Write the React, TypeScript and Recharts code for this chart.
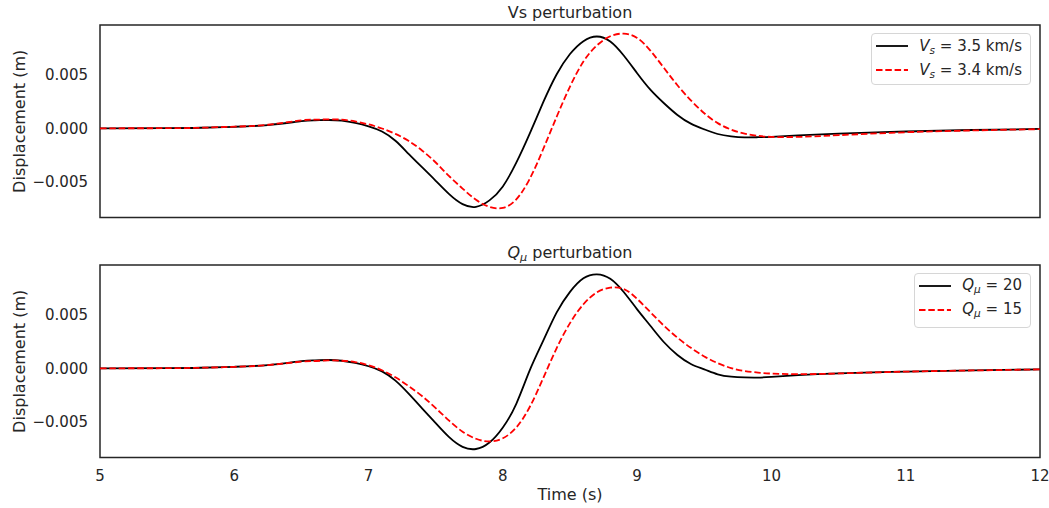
import React from 'react'
import { LineChart, Line, XAxis, YAxis, ReferenceArea } from 'recharts'

// time samples (s)
const times = [5, 5.5, 5.75, 6, 6.25, 6.5, 6.6, 6.7, 6.8, 6.9, 7.0, 7.1, 7.2, 7.3, 7.4, 7.5, 7.6, 7.7, 7.8, 7.9, 8.0, 8.1, 8.2, 8.3, 8.4, 8.5, 8.6, 8.7, 8.8, 8.9, 9.0, 9.1, 9.2, 9.3, 9.4, 9.5, 9.6, 9.7, 9.8, 9.9, 10.0, 10.2, 10.5, 11, 11.5, 12]

// Vs perturbation
const vs35 = [0, 0.00001, 0.00005, 0.00014, 0.0003, 0.00066, 0.00074, 0.00077, 0.00071, 0.0005, 0.00018, -0.0003, -0.00116, -0.0024, -0.00364, -0.00488, -0.00612, -0.00705, -0.0073, -0.0067, -0.0054, -0.0032, -0.0005, 0.0024, 0.005, 0.0069, 0.0081, 0.00853, 0.00806, 0.00676, 0.00512, 0.00357, 0.00233, 0.00124, 0.00043, -0.0001, -0.00053, -0.00075, -0.00084, -0.00083, -0.00079, -0.00066, -0.0005, -0.0003, -0.00016, -0.00006]
const vs34 = [0, 0.00001, 0.00005, 0.00015, 0.00033, 0.00074, 0.0008, 0.00083, 0.0008, 0.00064, 0.00036, -0.00002, -0.00052, -0.00119, -0.00208, -0.00318, -0.00445, -0.0056, -0.00665, -0.0073, -0.0074, -0.0066, -0.0047, -0.00195, 0.00105, 0.00388, 0.0062, 0.0077, 0.00855, 0.0088, 0.0084, 0.0072, 0.0056, 0.004, 0.0026, 0.0014, 0.00048, -0.00012, -0.0005, -0.0007, -0.0008, -0.0008, -0.00064, -0.00037, -0.0002, -0.00008]

// Q_mu perturbation
const q20 = [0, 0.00001, 0.00005, 0.00014, 0.0003, 0.00066, 0.00073, 0.00077, 0.0007, 0.0005, 0.00019, -0.00029, -0.00115, -0.00238, -0.00374, -0.0051, -0.0064, -0.0073, -0.0075, -0.0069, -0.0055, -0.0033, -0.0002, 0.00254, 0.00517, 0.0071, 0.00836, 0.00873, 0.00832, 0.00709, 0.00548, 0.00393, 0.00242, 0.00124, 0.0004, -0.0001, -0.00056, -0.00078, -0.00085, -0.00086, -0.0008, -0.00064, -0.00047, -0.00031, -0.0002, -0.0001]
const q15 = [0, 0.00001, 0.00005, 0.00013, 0.0003, 0.00062, 0.00068, 0.00073, 0.0007, 0.00058, 0.00028, -0.00018, -0.00084, -0.00167, -0.0026, -0.0037, -0.00487, -0.00589, -0.00655, -0.0068, -0.0065, -0.0055, -0.0036, -0.00093, 0.00186, 0.0042, 0.00595, 0.00706, 0.00749, 0.00737, 0.00645, 0.0052, 0.00395, 0.00285, 0.0019, 0.0011, 0.00048, 0.00002, -0.00025, -0.0004, -0.00049, -0.00055, -0.00048, -0.00031, -0.0002, -0.0001]

const xTicks = [5, 6, 7, 8, 9, 10, 11, 12]
const yTicks = [-0.005, 0, 0.005]
const xDomain = [5, 12]
const yDomain = [-0.0083, 0.0096]

const font = '"DejaVu Sans", sans-serif'
const ink = '#262626'

const topData = times.map((t, i) => ({ t, a: vs35[i], b: vs34[i] }))
const botData = times.map((t, i) => ({ t, a: q20[i], b: q15[i] }))

const fmtY = (v: number) => (v < 0 ? '\u2212' + Math.abs(v).toFixed(3) : v.toFixed(3))

const tickStyle = { fill: ink, fontSize: 15, fontFamily: font }

const Vs = ({ v }: { v: string }) => (
  <span>
    <i>V</i><sub style={{ fontSize: '70%', fontStyle: 'italic', verticalAlign: '-0.25em' }}>s</sub>
    {' = ' + v + ' km/s'}
  </span>
)
const Qmu = ({ v }: { v: string }) => (
  <span>
    <i>Q</i><sub style={{ fontSize: '70%', fontStyle: 'italic', verticalAlign: '-0.3em' }}>μ</sub>
    {' = ' + v}
  </span>
)

function LegendBox({ top, padBottom, items }: { top: number; padBottom: number; items: { label: React.ReactNode; dashed: boolean }[] }) {
  return (
    <div style={{
      position: 'absolute', top, right: 18, border: '1px solid #d6d6d6', borderRadius: 4,
      background: 'rgba(255,255,255,0.8)', padding: `0 8px ${padBottom}px 4px`,
      fontFamily: font, fontSize: 15, color: ink,
    }}>
      {items.map((it, i) => (
        <div key={i} style={{ display: 'flex', alignItems: 'center', height: 24 }}>
          <svg width={32} height={4} style={{ marginRight: 11 }}>
            <line x1={0} y1={2} x2={32} y2={2} stroke={it.dashed ? '#ff0000' : '#000000'}
              strokeWidth={1.8} strokeDasharray={it.dashed ? '6.5 2.8' : undefined} />
          </svg>
          <span style={{ whiteSpace: 'nowrap' }}>{it.label}</span>
        </div>
      ))}
    </div>
  )
}

function Panel({ data, showX }: { data: any[]; showX: boolean }) {
  return (
    <LineChart width={1049} height={showX ? 268 : 240} data={data}
      margin={{ top: 25, right: 9, bottom: showX ? 0 : 22.4, left: 0 }}>
      <XAxis dataKey="t" type="number" domain={xDomain} ticks={xTicks} hide={!showX}
        axisLine={false} tickLine={false} tickSize={0} tickMargin={13} height={50.4}
        tick={tickStyle}
        label={{ value: 'Time (s)', position: 'insideBottom', offset: 8, style: { fill: ink, fontSize: 16, fontFamily: font } }} />
      <YAxis type="number" domain={yDomain} ticks={yTicks} width={100} allowDataOverflow
        axisLine={false} tickLine={false} tickSize={0} tickMargin={12}
        tickFormatter={fmtY} tick={tickStyle}
        label={{ value: 'Displacement (m)', angle: -90, position: 'insideLeft', offset: 19,
          style: { textAnchor: 'middle', fill: ink, fontSize: 16, fontFamily: font } }} />
      <ReferenceArea x1={5} x2={12} y1={yDomain[0]} y2={yDomain[1]} fill="none" stroke={ink} strokeWidth={1.5} />
      <Line type="natural" dataKey="a" stroke="#000000" strokeWidth={1.8} dot={false} isAnimationActive={false} />
      <Line type="natural" dataKey="b" stroke="#ff0000" strokeWidth={1.8} strokeDasharray="6.5 2.8" dot={false} isAnimationActive={false} />
    </LineChart>
  )
}

export default function App() {
  const title = { position: 'absolute' as const, left: 100, width: 940, textAlign: 'center' as const, fontFamily: font, fontSize: 16, color: ink, lineHeight: 'normal' }
  return (
    <div style={{ position: 'absolute', left: 0, top: 0, width: 1049, height: 508, background: '#fff' }}>
      <div style={{ position: 'absolute', left: 0, top: 0 }}>
        <Panel data={topData} showX={false} />
      </div>
      <div style={{ position: 'absolute', left: 0, top: 240 }}>
        <Panel data={botData} showX={true} />
      </div>
      <div style={{ ...title, top: 3 }}>Vs perturbation</div>
      <div style={{ ...title, top: 243 }}>
        <i>Q</i><sub style={{ fontSize: '70%', fontStyle: 'italic', verticalAlign: '-0.3em' }}>μ</sub> perturbation
      </div>
      <LegendBox top={33} padBottom={2} items={[
        { label: <Vs v="3.5" />, dashed: false },
        { label: <Vs v="3.4" />, dashed: true },
      ]} />
      <LegendBox top={273} padBottom={5} items={[
        { label: <Qmu v="20" />, dashed: false },
        { label: <Qmu v="15" />, dashed: true },
      ]} />
    </div>
  )
}
